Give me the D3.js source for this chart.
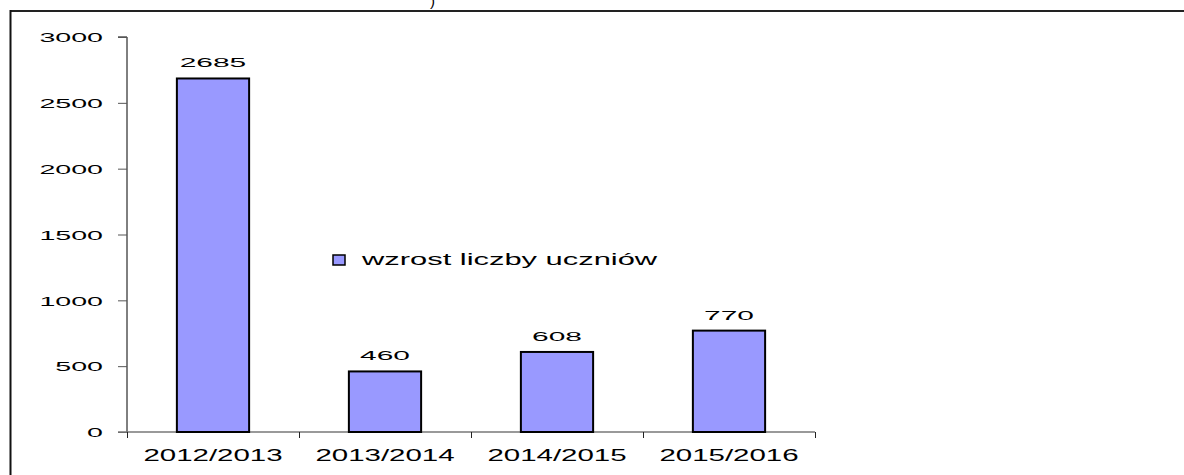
<!DOCTYPE html>
<html>
<head>
<meta charset="utf-8">
<script src="https://cdn.jsdelivr.net/npm/d3@7"></script>
<style>
  body { margin: 0; background: #fff; }
  text { font-family: "Liberation Sans", Arial, sans-serif; fill: #000; }
</style>
</head>
<body>
<svg id="chart" width="1184" height="475"></svg>
<script>
// data
const categories = ["2012/2013", "2013/2014", "2014/2015", "2015/2016"];
const values = [2685, 460, 608, 770];
const yTicks = [0, 500, 1000, 1500, 2000, 2500, 3000];
const seriesName = "wzrost liczby uczniów";

const svg = d3.select("#chart");
const W = 1184, H = 475;
const plot = { left: 127, right: 815, top: 37, bottom: 432 };

// stretch text horizontally, the source picture is squeezed vertically
function stretch(sel, k) {
    sel.each(function () {
        const len = this.getComputedTextLength();
        d3.select(this).attr("textLength", len * k).attr("lengthAdjust", "spacingAndGlyphs");
    });
}

// frame (cut off at right and bottom)
svg.append("line").attr("x1", 10).attr("x2", W).attr("y1", 11).attr("y2", 11)
   .attr("stroke", "#222").attr("stroke-width", 2);
svg.append("line").attr("x1", 10.5).attr("x2", 10.5).attr("y1", 10).attr("y2", H)
   .attr("stroke", "#111").attr("stroke-width", 2);

// leftover of the title, cut at the top
svg.append("text").attr("x", 430).attr("y", 6).attr("font-size", 15).text(")");

const y = d3.scaleLinear().domain([0, 3000]).range([plot.bottom, plot.top]);
const x = d3.scaleBand().domain(categories).range([plot.left, plot.right])
    .paddingInner(0.58).paddingOuter(0.29);
const xb = d3.scaleBand().domain(categories).range([plot.left, plot.right]);

// y axis
const yAxis = svg.append("g").attr("transform", `translate(${plot.left},0)`)
    .call(d3.axisLeft(y).tickValues(yTicks).tickSize(9).tickPadding(15).tickFormat(d3.format("d")));
yAxis.select(".domain").attr("stroke", "#000").attr("d", `M-9,${plot.top}H0V${plot.bottom}`);
yAxis.selectAll(".tick line").attr("stroke", "#555");
yAxis.selectAll(".tick text").attr("font-size", 13).attr("font-family", null).attr("dy", "0.36em")
    .call(stretch, 2.2);

// x axis with ticks on the category borders
const xAxis = svg.append("g");
xAxis.append("line").attr("x1", plot.left - 9).attr("x2", plot.right)
    .attr("y1", plot.bottom).attr("y2", plot.bottom).attr("stroke", "#777").attr("stroke-width", 1.5);
const borders = categories.map(c => xb(c)).concat([plot.right]);
xAxis.selectAll(".xt").data(borders).join("line").attr("class", "xt")
    .attr("x1", d => d + 0.5).attr("x2", d => d + 0.5)
    .attr("y1", plot.bottom).attr("y2", plot.bottom + 6).attr("stroke", "#222");
xAxis.selectAll(".xl").data(categories).join("text").attr("class", "xl")
    .attr("x", d => xb(d) + xb.bandwidth() / 2).attr("y", 461)
    .attr("text-anchor", "middle").attr("font-size", 16).text(d => d)
    .call(stretch, 1.84);

// bars
const bars = categories.map((c, i) => ({ cat: c, val: values[i] }));
svg.selectAll(".bar").data(bars).join("rect").attr("class", "bar")
    .attr("x", d => x(d.cat)).attr("width", x.bandwidth())
    .attr("y", d => y(d.val)).attr("height", d => y(0) - y(d.val))
    .attr("fill", "#9999ff").attr("stroke", "#000").attr("stroke-width", 2);

svg.selectAll(".val").data(bars).join("text").attr("class", "val")
    .attr("x", d => x(d.cat) + x.bandwidth() / 2).attr("y", d => y(d.val) - 11)
    .attr("text-anchor", "middle").attr("font-size", 13).text(d => d.val)
    .call(stretch, 2.3);

// legend
const legend = svg.append("g").attr("transform", "translate(333,255)");
legend.append("rect").attr("width", 12).attr("height", 10)
    .attr("fill", "#9999ff").attr("stroke", "#000").attr("stroke-width", 1.5);
legend.append("text").attr("x", 29).attr("y", 10).attr("font-size", 16).text(seriesName)
    .call(stretch, 1.93);
</script>
</body>
</html>
